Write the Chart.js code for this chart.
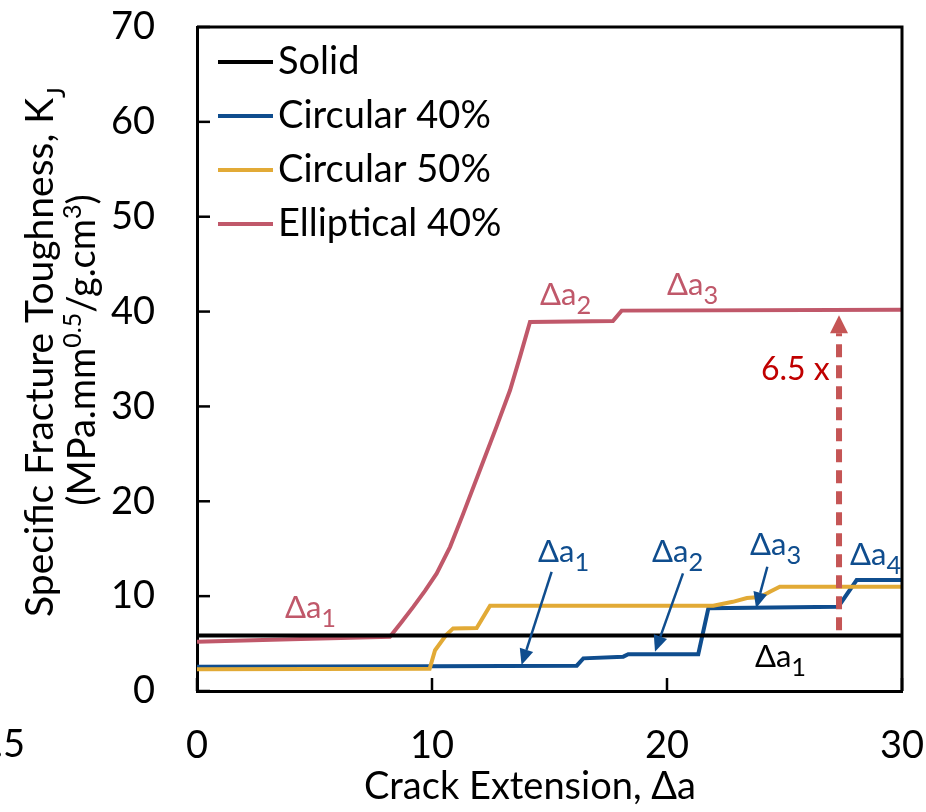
<!DOCTYPE html>
<html>
<head>
<meta charset="utf-8">
<script src="https://cdn.jsdelivr.net/npm/chart.js@4.4.0/dist/chart.umd.min.js"></script>
<style>
html, body { margin: 0; padding: 0; background: #fff; }
#wrap { width: 926px; height: 812px; position: relative; }
</style>
</head>
<body>
<div id="wrap"><canvas id="kj-chart"></canvas></div>
<script>

var FONT = "Lato, 'Open Sans', sans-serif";

// crack extension (x) and specific fracture toughness (y) per specimen
var solidX = [0, 30];
var solidY = [5.85, 5.85];

var circ40X = [0, 10, 16.16, 16.44, 18.14, 18.35, 21.33, 21.76, 27.29, 28.07, 30];
var circ40Y = [2.56, 2.6, 2.67, 3.44, 3.62, 3.87, 3.87, 8.72, 8.89, 11.7, 11.7];

var circ50X = [0, 9.9, 10.13, 10.6, 10.9, 11.9, 12.47, 21.97, 22.8, 23.4, 23.96, 24.4, 24.8, 30];
var circ50Y = [2.3, 2.35, 4.3, 5.9, 6.6, 6.65, 9.0, 9.0, 9.4, 9.8, 9.9, 10.5, 11.0, 11.0];

var ellip40X = [0, 4, 8.21, 8.7, 9.21, 9.7, 10.2, 10.77, 11.33, 12.04, 12.75, 13.32, 13.74, 14.17, 17.7, 18.07, 30];
var ellip40Y = [5.2, 5.45, 5.72, 7.25, 8.89, 10.55, 12.4, 15.2, 18.7, 23.3, 27.9, 31.7, 35.2, 38.9, 39.0, 40.1, 40.2];

var seriesNames = ['Solid', 'Circular 40%', 'Circular 50%', 'Elliptical 40%'];
var seriesColors = ['#000000', '#0F4D8E', '#E2AA36', '#C0586A'];

var xTicks = [0, 10, 20, 30];
var yTicks = [0, 10, 20, 30, 40, 50, 60, 70];

// crack-stage labels: [x, y, subscript, colour]
var stageLabels = [
	[3.74, 7.7, '1', '#C0586A'],
	[14.6, 40.7, '2', '#C0586A'],
	[20.0, 41.75, '3', '#C0586A'],
	[14.51, 13.6, '1', '#0F4D8E'],
	[19.36, 13.6, '2', '#0F4D8E'],
	[23.53, 14.34, '3', '#0F4D8E'],
	[27.79, 13.28, '4', '#0F4D8E'],
	[23.74, 2.53, '1', '#000000']
];

// pointer arrows for the Circular 40% stages: [x0, y0, x1, y1]
var stageArrows = [
	[15.09, 12.56, 13.81, 2.74],
	[20.68, 12.4, 19.49, 4.14],
	[24.27, 13.1, 23.79, 8.72]
];

// improvement arrow, Solid -> Elliptical 40%
var gainX = 27.32;
var gainFrom = 6.4;
var gainTo = 39.6;
var gainText = '6.5 x';
var gainTextAt = [24.0, 32.8];

function pts(xs, ys) {
	return xs.map(function (x, i) { return { x: x, y: ys[i] }; });
}

function richText(ctx, runs, x, y, size, color, align, ratio) {
	var small = size * (ratio || 0.66);
	var w = 0;
	runs.forEach(function (r) {
		ctx.font = (r[1] === 'n' ? size : small) + 'px ' + FONT;
		w += ctx.measureText(r[0]).width;
	});
	var cx = align === 'center' ? x - w / 2 : x;
	ctx.fillStyle = color;
	ctx.textBaseline = 'alphabetic';
	ctx.textAlign = 'left';
	runs.forEach(function (r) {
		var s = r[1] === 'n' ? size : small;
		var dy = r[1] === 'sub' ? size * 0.3 : (r[1] === 'sup' ? -size * 0.38 : 0);
		ctx.font = s + 'px ' + FONT;
		ctx.fillText(r[0], cx, y + dy);
		cx += ctx.measureText(r[0]).width;
	});
}

function arrow(ctx, x0, y0, x1, y1, width, headLen, headW, color, dash) {
	var ang = Math.atan2(y1 - y0, x1 - x0);
	var bx = x1 - headLen * Math.cos(ang);
	var by = y1 - headLen * Math.sin(ang);
	ctx.save();
	ctx.strokeStyle = color;
	ctx.fillStyle = color;
	ctx.lineWidth = width;
	ctx.setLineDash(dash || []);
	ctx.beginPath();
	ctx.moveTo(x0, y0);
	ctx.lineTo(bx, by);
	ctx.stroke();
	ctx.setLineDash([]);
	ctx.beginPath();
	ctx.moveTo(x1, y1);
	ctx.lineTo(bx + headW / 2 * Math.sin(ang), by - headW / 2 * Math.cos(ang));
	ctx.lineTo(bx - headW / 2 * Math.sin(ang), by + headW / 2 * Math.cos(ang));
	ctx.closePath();
	ctx.fill();
	ctx.restore();
}

var extras = {
	id: 'extras',
	afterDatasetsDraw: function (chart) {
		var ctx = chart.ctx;
		var xs = chart.scales.x, ys = chart.scales.y;
		var a = chart.chartArea;

		// frame and inward tick marks
		ctx.save();
		ctx.strokeStyle = '#000';
		ctx.lineWidth = 3;
		ctx.beginPath();
		ctx.moveTo(a.left, a.top);
		ctx.lineTo(a.right, a.top);
		ctx.lineTo(a.right, a.bottom);
		ctx.stroke();
		ctx.lineWidth = 2.5;
		yTicks.forEach(function (v) {
			var py = ys.getPixelForValue(v);
			ctx.beginPath(); ctx.moveTo(a.left, py); ctx.lineTo(a.left + 13, py); ctx.stroke();
		});
		xTicks.forEach(function (v) {
			var px = xs.getPixelForValue(v);
			ctx.beginPath(); ctx.moveTo(px, a.bottom); ctx.lineTo(px, a.bottom - 13); ctx.stroke();
		});
		ctx.restore();

		// legend inside the plot
		ctx.save();
		seriesNames.forEach(function (name, i) {
			var yy = a.top + 35 + i * 54;
			ctx.strokeStyle = seriesColors[i];
			ctx.lineWidth = 4;
			ctx.beginPath(); ctx.moveTo(a.left + 21, yy); ctx.lineTo(a.left + 76, yy); ctx.stroke();
			ctx.fillStyle = '#000';
			ctx.font = '38px ' + FONT;
			ctx.textBaseline = 'middle';
			ctx.textAlign = 'left';
			ctx.fillText(name, a.left + 81, yy);
		});
		ctx.restore();

		// stage arrows and labels
		stageArrows.forEach(function (s) {
			arrow(ctx, xs.getPixelForValue(s[0]), ys.getPixelForValue(s[1]),
				xs.getPixelForValue(s[2]), ys.getPixelForValue(s[3]), 2.5, 16, 14, '#0F4D8E');
		});
		stageLabels.forEach(function (l) {
			richText(ctx, [['\u0394a', 'n'], [l[2], 'sub']],
				xs.getPixelForValue(l[0]), ys.getPixelForValue(l[1]), 31, l[3], 'left', 0.82);
		});

		arrow(ctx, xs.getPixelForValue(gainX), ys.getPixelForValue(gainFrom),
			xs.getPixelForValue(gainX), ys.getPixelForValue(gainTo), 6, 18, 18, '#C55555', [13, 8]);
		ctx.save();
		ctx.fillStyle = '#C00000';
		ctx.font = '32px ' + FONT;
		ctx.textAlign = 'left';
		ctx.textBaseline = 'alphabetic';
		ctx.fillText(gainText, xs.getPixelForValue(gainTextAt[0]), ys.getPixelForValue(gainTextAt[1]));
		ctx.restore();
	},
	afterDraw: function (chart) {
		var ctx = chart.ctx;
		ctx.save();
		// axis titles
		ctx.translate(53, 352);
		ctx.rotate(-Math.PI / 2);
		richText(ctx, [['Specific Fracture Toughness, K', 'n'], ['J', 'sub']], 0, 0, 39, '#000', 'center');
		ctx.restore();
		ctx.save();
		ctx.translate(95, 350);
		ctx.rotate(-Math.PI / 2);
		richText(ctx, [['(MPa.mm', 'n'], ['0.5', 'sup'], ['/g.cm', 'n'], ['3', 'sup'], [')', 'n']], 0, 0, 38, '#000', 'center');
		ctx.restore();
		richText(ctx, [['Crack Extension, \u0394a', 'n']], 530, 799, 38, '#000', 'center');

		// clipped label at the left edge
		ctx.save();
		ctx.fillStyle = '#000';
		ctx.font = '38px ' + FONT;
		ctx.textAlign = 'right';
		ctx.textBaseline = 'middle';
		ctx.fillText('1.5', 25, 745);
		ctx.restore();
	}
};

var ctx = document.getElementById('kj-chart');
var kjChart = new Chart(ctx, {
	type: 'line',
	data: {
		datasets: [
			{ label: seriesNames[0], data: pts(solidX, solidY), borderColor: seriesColors[0], order: 0 },
			{ label: seriesNames[3], data: pts(ellip40X, ellip40Y), borderColor: seriesColors[3], order: 1 },
			{ label: seriesNames[2], data: pts(circ50X, circ50Y), borderColor: seriesColors[2], order: 2 },
			{ label: seriesNames[1], data: pts(circ40X, circ40Y), borderColor: seriesColors[1], order: 3 }
		]
	},
	options: {
		responsive: true,
		maintainAspectRatio: false,
		animation: false,
		devicePixelRatio: 1,
		elements: {
			line: { borderWidth: 4, tension: 0, fill: false, borderJoinStyle: 'miter' },
			point: { radius: 0, hoverRadius: 0 }
		},
		layout: { padding: { top: 27, right: 24, bottom: 0, left: 0 } },
		plugins: {
			legend: { display: false },
			tooltip: { enabled: false }
		},
		scales: {
			x: {
				type: 'linear', min: 0, max: 30,
				afterBuildTicks: function (axis) { axis.ticks = xTicks.map(function (v) { return { value: v }; }); },
				ticks: { color: '#000', font: { family: FONT, size: 38 }, padding: 32, maxRotation: 0 },
				grid: { display: false, drawTicks: false },
				border: { display: true, color: '#000', width: 3 },
				afterFit: function (axis) {
					axis.height = 121;
					axis.paddingLeft = 0;
					axis.paddingRight = 0;
				}
			},
			y: {
				min: 0, max: 70,
				afterBuildTicks: function (axis) { axis.ticks = yTicks.map(function (v) { return { value: v }; }); },
				ticks: { color: '#000', font: { family: FONT, size: 38 }, padding: 42 },
				grid: { display: false, drawTicks: false },
				border: { display: true, color: '#000', width: 3 },
				afterFit: function (axis) {
					axis.width = 197;
					axis.paddingTop = 0;
					axis.paddingBottom = 0;
				}
			}
		}
	},
	plugins: [extras]
});
</script>
</body>
</html>
